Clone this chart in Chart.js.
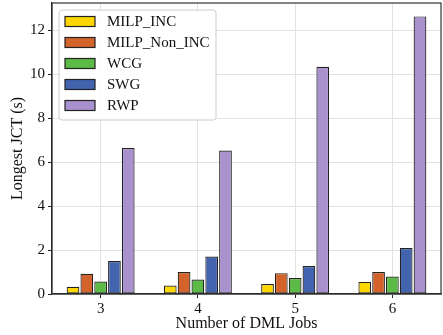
<!DOCTYPE html>
<html>
<head>
<meta charset="utf-8">
<script src="https://cdn.jsdelivr.net/npm/chart.js@4"></script>
<style>
  html, body { margin: 0; padding: 0; background: #fff; }
  #wrap { width: 443px; height: 335px; }
</style>
</head>
<body>
<div id="wrap"><canvas id="jctChart" width="443" height="335"></canvas></div>
<script>
// Chart data
const categories = ['3', '4', '5', '6'];
const seriesNames = ['MILP_INC', 'MILP_Non_INC', 'WCG', 'SWG', 'RWP'];
const milpInc = [0.33, 0.39, 0.45, 0.55];
const milpNonInc = [0.92, 1.0, 0.95, 1.0];
const wcg = [0.57, 0.66, 0.73, 0.8];
const swg = [1.5, 1.71, 1.27, 2.09];
const rwp = [6.65, 6.53, 10.35, 12.64];
const yTicks = [0, 2, 4, 6, 8, 10, 12];

const colors = ['#ffd700', '#d3632a', '#5cba46', '#4263ae', '#a991ce'];
const serif = '"Liberation Serif", "DejaVu Serif", serif';

// legend drawn inside the plot, matplotlib style
const insideLegend = {
    id: 'insideLegend',
    afterDatasetsDraw(chart) {
        const ctx = chart.ctx;
        const area = chart.chartArea;
        const x = area.left + 7, y = area.top + 7;
        const w = 157, h = 110;
        ctx.save();
        ctx.beginPath();
        ctx.roundRect(x, y, w, h, 3);
        ctx.fillStyle = 'rgba(255,255,255,0.9)';
        ctx.fill();
        ctx.strokeStyle = '#cccccc';
        ctx.lineWidth = 1;
        ctx.stroke();
        ctx.font = '15px ' + serif;
        ctx.textBaseline = 'middle';
        chart.data.datasets.forEach(function(ds, i) {
            const cy = y + 11.5 + i * 21;
            ctx.fillStyle = ds.backgroundColor;
            ctx.fillRect(x + 6, cy - 5, 30, 10);
            ctx.strokeStyle = '#222';
            ctx.lineWidth = 1.2;
            ctx.strokeRect(x + 6, cy - 5, 30, 10);
            ctx.fillStyle = '#111';
            ctx.fillText(ds.label, x + 48, cy + 1);
        });
        ctx.restore();
    }
};

// full box around plot area
const frame = {
    id: 'frame',
    afterDraw(chart) {
        const a = chart.chartArea;
        const ctx = chart.ctx;
        ctx.save();
        ctx.strokeStyle = '#333';
        ctx.lineWidth = 1.2;
        ctx.strokeRect(a.left, a.top, a.right - a.left, a.bottom - a.top);
        ctx.restore();
    }
};

const seriesValues = [milpInc, milpNonInc, wcg, swg, rwp];

new Chart(document.getElementById('jctChart').getContext('2d'), {
    type: 'bar',
    data: {
        labels: categories,
        datasets: seriesNames.map(function(name, i) {
            return {
                label: name,
                data: seriesValues[i],
                backgroundColor: colors[i],
                borderColor: '#222',
                borderWidth: 1.2,
                borderSkipped: false,
                categoryPercentage: 0.71,
                barPercentage: 0.92
            };
        })
    },
    options: {
        responsive: false,
        animation: false,
        layout: {
            padding: { left: 0, right: 2, top: 3, bottom: 0 }
        },
        plugins: {
            legend: { display: false },
            tooltip: { enabled: false }
        },
        scales: {
            x: {
                afterFit: function(scale) {
                    scale.height = 41;
                    scale.paddingLeft = 0;
                    scale.paddingRight = 0;
                },
                grid: {
                    offset: false,
                    color: '#e2e2e2',
                    tickColor: '#222',
                    tickLength: 4
                },
                border: { color: '#222', width: 1.2 },
                ticks: {
                    color: '#111',
                    padding: 2,
                    font: { family: serif, size: 15 }
                },
                title: {
                    display: true,
                    text: 'Number of DML Jobs',
                    color: '#111',
                    padding: { top: 0, bottom: 2 },
                    font: { family: serif, size: 16 }
                }
            },
            y: {
                min: 0,
                max: 13.25,
                afterFit: function(scale) {
                    scale.width = 52;
                    scale.paddingTop = 0;
                    scale.paddingBottom = 0;
                },
                afterBuildTicks: function(scale) {
                    scale.ticks = yTicks.map(function(v) { return { value: v }; });
                },
                grid: {
                    color: '#e2e2e2',
                    tickColor: '#222',
                    tickLength: 4
                },
                border: { color: '#222', width: 1.2 },
                ticks: {
                    color: '#111',
                    padding: 3,
                    font: { family: serif, size: 15 }
                },
                title: {
                    display: true,
                    text: 'Longest JCT (s)',
                    color: '#111',
                    padding: { top: 8, bottom: 0 },
                    font: { family: serif, size: 16 }
                }
            }
        }
    },
    plugins: [insideLegend, frame]
});
</script>
</body>
</html>
